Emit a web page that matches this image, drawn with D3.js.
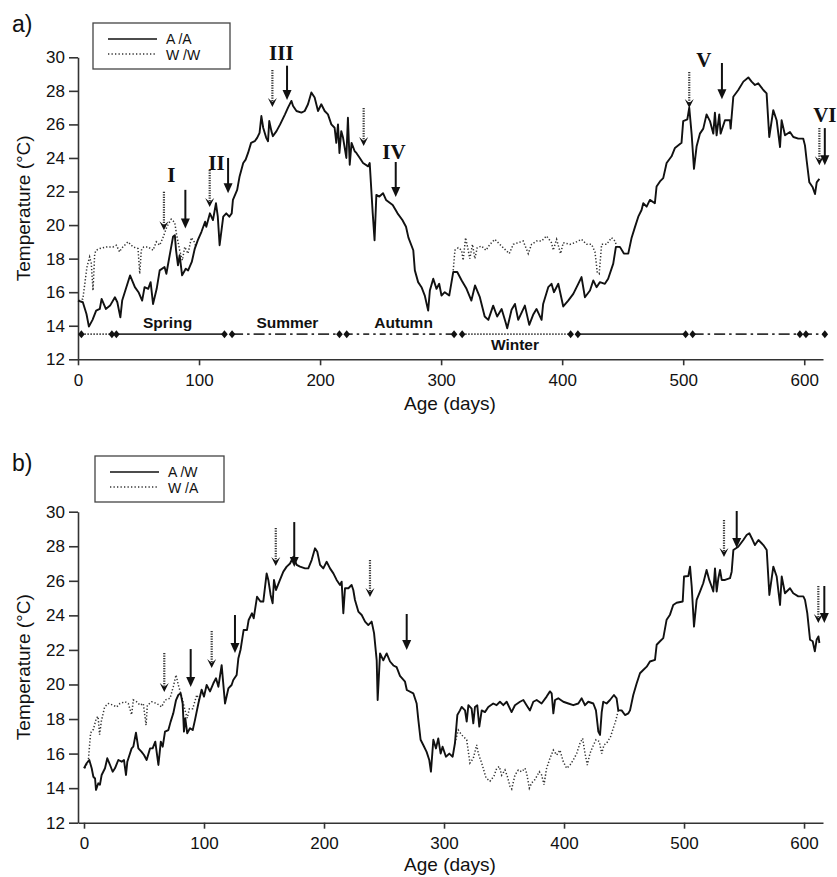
<!DOCTYPE html>
<html><head><meta charset="utf-8">
<script src="https://cdn.jsdelivr.net/npm/d3@7"></script>
<style>
html,body{margin:0;padding:0;background:#fff;}
svg text{fill:#111;}
</style></head>
<body>
<svg id="chart" width="837" height="877" font-family="Liberation Sans, Arial, sans-serif"></svg>
<script>
// ---------- DATA ----------
const xTicks = [0,100,200,300,400,500,600];
const yTicks = [12,14,16,18,20,22,24,26,28,30];

// Panel a: A/A (solid) [day, °C]
const aaSeries = [[0,15.5],[4,15.4],[7,14.7],[9,13.95],[12,14.35],[15,14.9],[18,15.0],[19.5,15.6],[23,15.0],[26.5,15.2],[30.5,15.7],[32.5,15.4],[35,14.5],[36.5,15.5],[43,17.0],[47,16.3],[50,16.0],[53,15.5],[55,16.3],[58,16.2],[60,16.6],[62,15.3],[65,16.2],[67.5,17.3],[71.5,17.5],[73,17.1],[76,18.3],[78.5,19.3],[80,19.4],[81,18.5],[82.6,17.6],[84,18.2],[86,17.0],[89,17.4],[91,17.3],[94,17.8],[96.5,18.6],[99,19.1],[102,19.6],[105,20.2],[106,19.9],[109,20.7],[111.5,20.3],[114,21.3],[115.5,20.5],[117,18.8],[120,20.5],[122.5,20.7],[125,20.5],[127,20.7],[128,21.5],[131.5,22.1],[133.5,22.9],[136.5,23.7],[138.5,23.9],[140.5,24.3],[143,24.9],[146,25.0],[148,25.2],[150,25.5],[151.5,26.5],[153,25.8],[155.5,25.2],[157,25.0],[158,26.2],[159.8,25.6],[161,25.3],[164,25.6],[167,26.0],[171,26.6],[173.5,27.0],[176.3,27.4],[177.7,27.1],[180.5,26.8],[184.6,26.7],[187.3,26.8],[190,27.2],[192.8,27.9],[195.5,27.6],[198.3,26.8],[201,27.2],[203.8,26.8],[206.5,26.6],[209.3,26.0],[212,25.8],[213.4,24.9],[214.8,26.0],[216,24.3],[217.5,25.6],[219,25.2],[221.7,24.0],[223,26.4],[224.5,23.6],[226,24.9],[228.6,24.4],[230,24.3],[232.8,24.0],[235.5,23.7],[239.7,23.5],[241,23.7],[243.5,20.7],[245,19.1],[246.5,21.8],[249,21.7],[252,21.9],[254.5,21.5],[260,21.2],[264,20.7],[268,20.3],[271,19.9],[273,19.25],[277,18.5],[278.3,17.3],[281,16.6],[283.8,16.3],[286.5,15.8],[289.3,14.9],[290.7,16.1],[293.5,16.8],[296.2,16.2],[298.4,16.5],[300.3,15.8],[303,16.0],[306.7,15.8],[310,17.2],[313.3,17.2],[317,16.7],[321,16.2],[325,15.5],[328,16.4],[332,15.7],[336,14.55],[339,14.35],[343,15.2],[346.3,14.55],[350,15.0],[353.5,14.15],[354.6,13.85],[358.2,14.95],[361,15.3],[363.7,14.35],[369.2,15.2],[372.8,14.05],[376,14.65],[378.8,15.0],[383,14.35],[384.3,15.3],[388.5,16.3],[391.2,16.5],[393.2,16.0],[396.8,16.5],[400.9,15.15],[405,15.5],[409.2,15.9],[413.3,16.5],[416,16.9],[418.8,15.7],[423,16.1],[425.7,16.7],[428.4,16.3],[431.2,16.6],[435.3,16.5],[438,16.8],[442.2,17.7],[444.4,18.7],[447.7,18.7],[451,18.3],[454.6,18.3],[457.4,19.25],[460,19.85],[462.9,20.5],[465.6,20.9],[467,21.3],[469.8,21.1],[472.5,21.5],[476.6,21.3],[478,22.3],[480.8,22.6],[483.5,22.8],[486.3,23.7],[490.4,24.1],[493.2,24.6],[498.6,24.9],[500,26.2],[503.4,26.3],[505,27.0],[507,25.4],[508.9,23.35],[511.1,24.7],[513.8,25.45],[516.6,25.75],[519.3,26.6],[522.1,26.2],[524.9,25.45],[526.2,26.7],[527.6,25.35],[529.8,26.6],[530.9,25.45],[534.5,26.25],[538.6,26.25],[539.2,25.75],[541.4,27.65],[545.5,28.05],[549.7,28.55],[553.8,28.8],[556.5,28.55],[559.3,28.35],[562,28.45],[566.2,28.05],[568.9,27.85],[571.1,25.25],[574.4,26.85],[577.2,26.25],[580,24.65],[581.3,26.25],[584.1,25.35],[588.2,25.55],[591,25.25],[595.1,25.15],[599.2,25.15],[600.6,24.75],[602,23.85],[604.2,22.55],[607,22.25],[608.9,21.85],[610.3,22.55],[612.5,22.75]];

// Panel a: W/W (dotted) where it departs from A/A
const wwSpring = [[0.5,15.5],[4,15.6],[7.4,17.5],[9.6,18.1],[11,17.7],[12.4,16.1],[13.8,18.3],[15,18.5],[18,18.6],[23.4,18.7],[29,18.7],[31.7,18.8],[34.4,18.4],[35.8,18.6],[41.3,19.0],[45.5,18.7],[49.6,18.6],[51,17.1],[52.3,18.5],[54.3,18.7],[57.9,18.7],[62,18.5],[64.7,19.0],[67.5,18.8],[70.2,19.25],[73.4,19.9],[77,20.35],[79.9,20.15],[81.3,19.5],[84,18.5],[86.2,17.9],[88.2,18.7],[90.9,18.3],[93.7,19.25],[96,19.0],[97,18.8]];
const wwWinter = [[310,17.3],[311.4,18.5],[314.1,18.65],[316.9,18.5],[318.2,17.9],[320.2,19.25],[322.4,18.5],[323.7,18.0],[325.9,18.85],[327.9,18.0],[329.8,18.65],[333.4,18.75],[337,18.5],[340.3,18.85],[344.4,19.15],[348.5,18.85],[352.7,18.55],[356.3,18.3],[359.6,18.85],[363.7,18.95],[367.8,19.05],[372,18.3],[374.7,18.85],[378.8,19.05],[383,19.05],[387.1,19.35],[391.2,18.95],[392.6,18.5],[395.4,19.15],[398.7,18.3],[400.9,18.95],[406.4,18.85],[410.5,18.95],[416,19.15],[420.2,18.85],[424.3,18.85],[427.1,18.4],[429,17.2],[430.6,17.1],[432.6,18.85],[436.7,18.85],[440.8,19.25],[443.6,19.05],[445.5,18.65],[447.7,18.7]];

// Panel b: A/W (solid)
const awSeries = [[0,15.15],[2.2,15.44],[4.4,15.63],[6.4,15.15],[7.8,14.66],[9.2,14.56],[10,13.9],[11.9,14.28],[13.3,14.2],[14.7,14.76],[17.5,15.15],[19.4,15.73],[21.7,15.34],[23.9,14.95],[25.8,15.15],[28.6,15.63],[31.4,15.53],[33.3,15.63],[35,14.76],[36.1,15.53],[39.7,16.3],[41.1,16.4],[43.3,17.21],[45.3,16.3],[48,16.1],[50,15.92],[52.2,15.63],[55,16.3],[57.2,16.3],[59.4,16.69],[62,15.34],[64,16.69],[65.6,16.4],[67.5,17.27],[70.3,17.36],[72.2,17.85],[74.4,18.33],[76.7,19.1],[78.6,19.39],[80.5,19.5],[82.2,18.9],[83.3,17.27],[84.4,18.05],[86,17.18],[88.3,17.47],[90.6,17.36],[92.5,17.95],[95.3,18.9],[98,19.7],[100,19.3],[102.2,19.97],[105,19.6],[107.8,20.07],[110,20.36],[112,19.87],[114.7,21.12],[117.5,18.9],[120.3,19.77],[123,19.97],[124.4,20.26],[127.2,20.55],[128.6,21.5],[130.5,22.03],[133,23.15],[135.8,23.15],[137.2,23.73],[140,24.12],[141.4,23.83],[144.2,25.08],[147,24.8],[149.4,24.8],[152.2,26.43],[153.6,26.05],[155.5,25.18],[157.2,24.7],[158.3,26.05],[160,25.47],[163.3,26.05],[166.1,26.53],[168.9,26.82],[171.7,27.0],[174.4,27.39],[177.2,26.92],[180,26.82],[184.2,26.72],[186.9,26.72],[189.7,27.2],[192.5,27.88],[194.4,27.68],[196.7,26.92],[199.4,26.72],[202.2,27.1],[205,26.72],[207.8,26.43],[210.5,26.05],[213.3,25.76],[214.7,25.95],[216.1,24.12],[217.5,25.57],[220.3,25.57],[223,25.76],[224.4,25.47],[225.8,24.89],[228.6,24.22],[231.4,24.02],[234.2,23.64],[236.9,23.44],[239.7,23.64],[241.7,22.97],[243.9,21.4],[244.7,19.1],[246.7,21.8],[249.4,21.4],[252.2,21.8],[255,21.33],[257.8,21.1],[260.5,21.0],[263.3,20.5],[267.5,20.16],[269,19.68],[274.4,19.49],[277.2,18.9],[278.6,17.95],[280.5,16.8],[282.7,16.5],[285.5,16.1],[287.7,15.63],[289.1,14.95],[291.1,16.8],[293.3,16.3],[295.2,16.88],[297.2,16.0],[298.8,16.4],[301.6,15.82],[304.4,16.0],[307.2,15.82],[309.1,16.6],[311.1,18.23],[313.3,18.5],[314.7,18.7],[317.5,18.5],[318.9,17.85],[320.3,18.8],[323,18.6],[324.4,17.75],[325.8,18.7],[327.7,18.8],[329.4,17.56],[331.4,18.5],[334.1,18.4],[336.9,18.7],[341,18.9],[343.8,18.8],[346.6,19.0],[349.4,18.8],[352.2,19.0],[356.3,18.4],[359.1,18.8],[363.3,19.0],[366.1,19.1],[368.8,18.8],[371.6,18.5],[374.4,19.0],[377.2,19.1],[381.3,18.9],[385.5,19.3],[388.3,19.6],[389.7,19.49],[391.1,18.33],[392.5,19.1],[395.2,19.2],[399.4,19.0],[403.6,18.9],[407.7,18.8],[411.9,18.9],[414.7,19.2],[417.5,18.8],[420.2,19.0],[424.4,18.9],[426.6,18.5],[428.6,17.27],[430,17.08],[431.4,18.4],[432.7,19.0],[435.5,18.9],[438.3,19.1],[441.6,19.39],[443.8,19.2],[445.2,18.5],[448,18.5],[450.8,18.23],[453.6,18.33],[455,18.5],[457.7,19.39],[460.5,20.06],[463.3,20.65],[466,20.84],[468.9,21.03],[471.6,21.33],[475.8,21.42],[477.2,22.3],[480,22.5],[482.7,22.68],[485.5,23.75],[488.3,24.04],[491,24.6],[493.8,24.73],[498.9,24.8],[500,26.25],[503.6,26.28],[505,26.82],[506.4,25.67],[508.3,23.35],[510.5,24.9],[513.3,25.38],[516,25.86],[518.8,26.63],[521,26.05],[523,25.67],[524.4,25.38],[525.8,26.72],[527.2,25.38],[528.6,26.15],[530,26.63],[531.4,26.05],[534.2,26.05],[538.3,26.15],[539.7,26.53],[541.1,27.78],[545.2,27.97],[549.4,28.36],[552.2,28.65],[554.4,28.75],[557.2,28.36],[559.1,28.07],[562,28.36],[566.1,28.07],[568.9,27.78],[571.1,25.18],[574.4,26.82],[577.2,26.25],[580,24.6],[581.4,26.25],[584.1,25.28],[588.3,25.57],[591,25.28],[595.2,25.1],[599.4,25.1],[600.8,24.9],[602.7,24.13],[605,22.59],[607.2,22.5],[609,21.92],[610.5,22.59],[612,22.78],[612.8,22.4]];

// Panel b: W/A (dotted) where it departs from A/W
const waSpring = [[0.8,15.15],[3.6,15.6],[5.5,17.2],[7.8,17.4],[10.3,18.05],[11.7,18.15],[13,17.1],[14.4,17.85],[17.2,18.7],[20.3,18.9],[24.4,18.8],[27.2,18.7],[30,18.9],[34.2,19.0],[36.9,18.9],[39.7,18.25],[41.1,19.1],[43.9,19.0],[46.7,18.8],[49.4,18.9],[51.7,17.65],[52.8,18.8],[56.4,19.0],[60.6,18.9],[64.7,18.7],[67.5,19.1],[71.7,19.2],[74.4,19.87],[76.7,20.55],[78.6,19.97],[81.4,19.3],[84.2,18.5],[86,18.05],[87.8,18.6],[90.6,18.6],[94,19.4],[96,19.1]];
const waWinter = [[309.1,16.6],[311.9,17.36],[314.7,17.08],[318.9,16.8],[321.6,15.45],[324.4,15.73],[327.2,16.5],[328.6,16.0],[331.4,15.45],[335,14.6],[338.3,14.4],[341.6,14.7],[343.9,15.15],[346.1,15.25],[348,14.75],[350.8,15.05],[352.7,14.7],[355,14.1],[356.4,13.95],[359.1,14.75],[361.9,15.05],[364.7,14.95],[367.5,15.15],[368.9,14.85],[371.1,14.0],[373,14.3],[375.8,14.5],[379.4,14.95],[381.4,14.75],[383.3,14.2],[385.5,15.15],[388.3,15.73],[391.1,16.2],[393.9,15.92],[396.6,16.2],[399.4,15.53],[402.2,15.15],[405,15.34],[407.7,15.63],[410.5,16.0],[413.3,16.6],[415.5,16.88],[417.5,16.0],[419.4,15.34],[421.6,16.0],[423.9,16.4],[426.6,16.8],[429.4,16.7],[431.4,16.0],[433.3,16.5],[435.5,16.6],[438.8,16.98],[441,17.46],[443.3,17.95],[445.2,18.5],[447,18.5]];

// Arrows: [day, top °C, tip °C]
const aSolidArrows  = [[88.7,22.1,19.8],[124,24.0,21.9],[172.7,29.5,27.45],[262.5,23.76,21.67],[532,29.66,27.5],[617,25.78,23.57]];
const aDottedArrows = [[71,21.98,19.69],[108.8,23.28,21.08],[160.6,29.24,27.04],[236,26.98,24.71],[505,29.12,26.98],[612.5,25.78,23.57]];
const bSolidArrows  = [[88.9,22.05,19.85],[125.8,24.02,21.82],[175.2,29.4,26.8],[268.9,24.08,22.0],[543.9,30.04,27.9],[616.9,25.7,23.56]];
const bDottedArrows = [[66.9,21.82,19.56],[106.4,23.09,20.95],[159.8,29.06,26.86],[238.3,27.2,25.07],[533.3,29.52,27.38],[611.9,25.7,23.56]];

// Period labels: [text, day, °C]
const periodLabels = [["I",77.2,22.98],["II",114.4,23.7],["III",168,30.25],["IV",261,24.35],["V",517,29.84],["VI",617,26.56]];

// Season bar (panel a, at 13.5 °C): [start day, end day, style]
const seasonLevel = 13.5;
const seasonSegments = [[2.8,28,"winter"],[31.7,121,"spring"],[127.3,216,"summer"],[222,310.7,"autumn"],[317.4,407,"winter"],[413,502,"spring"],[507.8,596.4,"summer"],[601.4,617,"autumn"]];
const seasonDiamonds = [2.8,28,31.7,121,127.3,216,222,310.7,317.4,407,413,502,507.8,596.4,601.4,617];
const seasonNames = [["Spring",74,13.85],["Summer",173,13.85],["Autumn",269,13.85],["Winter",361,12.55]];

// ---------- DRAW ----------
const svg = d3.select("#chart");
const ink = "#111";
const sans = "Liberation Sans, Arial, sans-serif";
const serif = "Liberation Serif, Times New Roman, serif";
const segDash = {winter:"1.5,1.5", spring:null, summer:"11,4,2.5,4", autumn:"6,4,2.5,4"};

function panel(cfg){
  const g = svg.append("g");
  const x = d3.scaleLinear().domain(cfg.xDomain).range([78, 823]);
  const y = d3.scaleLinear().domain([12,30]).range(cfg.yRange);
  const xAx = d3.axisBottom(x).tickValues(xTicks).tickSize(6).tickSizeOuter(0).tickPadding(5);
  const yAx = d3.axisLeft(y).tickValues(yTicks).tickSize(9).tickSizeOuter(0).tickPadding(4);
  const gx = g.append("g").attr("transform",`translate(0,${cfg.yRange[0]})`).call(xAx);
  const gy = g.append("g").attr("transform",`translate(78,0)`).call(yAx);
  [gx,gy].forEach(a=>{
    a.selectAll("path,line").attr("stroke","#333").attr("stroke-width",1.6);
    a.selectAll("text").style("font-size","17px").style("fill","#111").style("font-family",sans);
  });
  gx.selectAll("text").attr("dy","0.9em");

  const line = d3.line().x(d=>x(d[0])).y(d=>y(d[1]));
  cfg.dotted.forEach(s=>{
    g.append("path").datum(s).attr("d",line).attr("fill","none")
      .attr("stroke","#333").attr("stroke-width",1.5).attr("stroke-dasharray","1.3,2");
  });
  g.append("path").datum(cfg.solid).attr("d",line).attr("fill","none")
    .attr("stroke",ink).attr("stroke-width",1.9).attr("stroke-linejoin","round");

  // arrows
  cfg.solidArrows.forEach(a=>{
    const ax=x(a[0]), y0=y(a[1]), y1=y(a[2]);
    g.append("line").attr("x1",ax).attr("x2",ax).attr("y1",y0).attr("y2",y1-6)
      .attr("stroke",ink).attr("stroke-width",2);
    g.append("path").attr("d",`M${ax-4.5},${y1-10}L${ax+4.5},${y1-10}L${ax},${y1}Z`).attr("fill",ink);
  });
  cfg.dottedArrows.forEach(a=>{
    const ax=x(a[0]), y0=y(a[1]), y1=y(a[2]);
    g.append("line").attr("x1",ax).attr("x2",ax).attr("y1",y0).attr("y2",y1-4)
      .attr("stroke","#333").attr("stroke-width",2.2).attr("stroke-dasharray","1.2,1.3");
    g.append("path").attr("d",`M${ax-4.5},${y1-9}L${ax},${y1-5}L${ax+4.5},${y1-9}L${ax},${y1}Z`).attr("fill",ink);
  });

  // legend
  const L = cfg.legend;
  g.append("rect").attr("x",L.x).attr("y",L.y).attr("width",L.w).attr("height",L.h)
    .attr("fill","#fff").attr("stroke","#444").attr("stroke-width",1.3);
  g.append("line").attr("x1",L.x+15).attr("x2",L.x+64).attr("y1",L.y+16).attr("y2",L.y+16)
    .attr("stroke",ink).attr("stroke-width",1.6);
  g.append("line").attr("x1",L.x+15).attr("x2",L.x+64).attr("y1",L.y+31).attr("y2",L.y+31)
    .attr("stroke","#333").attr("stroke-width",1.4).attr("stroke-dasharray","1.3,2.2");
  g.append("text").attr("x",L.x+73).attr("y",L.y+21).attr("font-size",14).text(L.names[0]);
  g.append("text").attr("x",L.x+73).attr("y",L.y+37).attr("font-size",14).text(L.names[1]);

  g.append("text").attr("x",12).attr("y",cfg.tagY).attr("font-size",23).text(cfg.tag);
  g.append("text").attr("transform",`translate(30,${(cfg.yRange[0]+cfg.yRange[1])/2}) rotate(-90)`)
    .attr("text-anchor","middle").attr("font-size",19).text("Temperature (°C)");
  g.append("text").attr("x",450).attr("y",cfg.yRange[0]+cfg.xLabelOff).attr("text-anchor","middle")
    .attr("font-size",19).text("Age (days)");
  return {g,x,y};
}

const A = panel({xDomain:[0,615.5], yRange:[359.3,57.3], solid:aaSeries, dotted:[wwSpring,wwWinter],
  solidArrows:aSolidArrows, dottedArrows:aDottedArrows, xLabelOff:51,
  legend:{x:93,y:23,w:137,h:46,names:["A /A","W /W"]}, tag:"a)", tagY:32});
const B = panel({xDomain:[-5,615.8], yRange:[822.7,511.7], solid:awSeries, dotted:[waSpring,waWinter],
  solidArrows:bSolidArrows, dottedArrows:bDottedArrows, xLabelOff:48,
  legend:{x:95,y:456,w:129,h:46,names:["A /W","W /A"]}, tag:"b)", tagY:471});

// period labels (panel a)
A.g.selectAll("text.per").data(periodLabels).enter().append("text").attr("class","per")
  .attr("x",d=>A.x(d[1])).attr("y",d=>A.y(d[2])).attr("dy","0.35em").attr("text-anchor","middle")
  .style("font-family",serif).style("font-weight","bold").style("font-size","21px").text(d=>d[0]);

// season bar
const sy = A.y(seasonLevel);
seasonSegments.forEach(s=>{
  const ln = A.g.append("line").attr("x1",A.x(s[0])).attr("x2",A.x(s[1])).attr("y1",sy).attr("y2",sy)
    .attr("stroke",s[2]==="winter"?"#444":"#333").attr("stroke-width",s[2]==="winter"?1.6:1.8);
  if(segDash[s[2]]) ln.attr("stroke-dasharray",segDash[s[2]]);
});
A.g.selectAll("path.dia").data(seasonDiamonds).enter().append("path").attr("class","dia")
  .attr("d",d=>`M${A.x(d)},${sy-4}L${A.x(d)+3.3},${sy}L${A.x(d)},${sy+4}L${A.x(d)-3.3},${sy}Z`)
  .attr("fill",ink);
A.g.selectAll("text.sea").data(seasonNames).enter().append("text").attr("class","sea")
  .attr("x",d=>A.x(d[1])).attr("y",d=>A.y(d[2])).attr("text-anchor","middle")
  .attr("font-weight","bold").attr("font-size",15.5).text(d=>d[0]);
</script>
</body></html>
